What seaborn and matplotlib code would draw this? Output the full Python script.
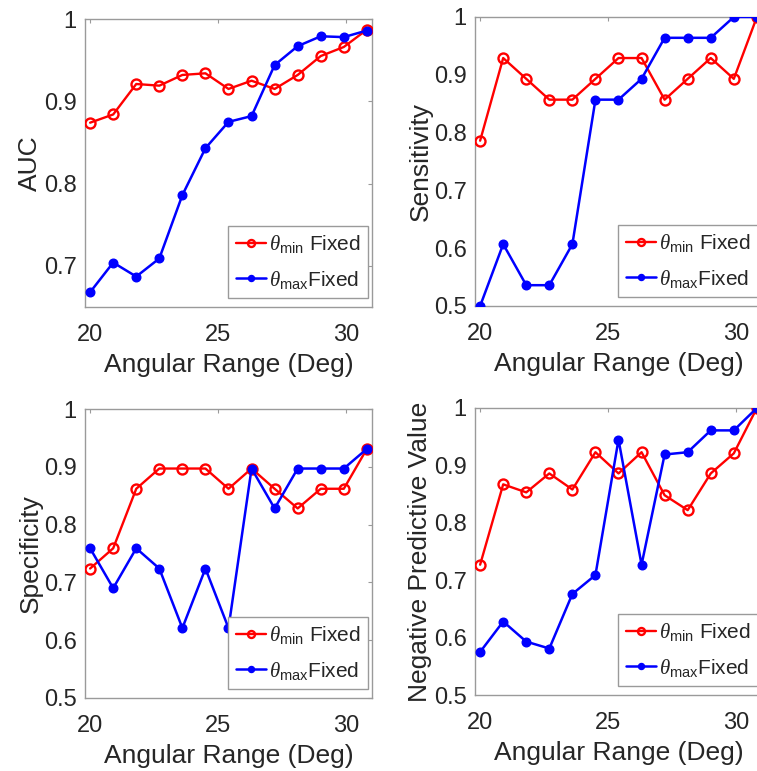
import numpy as np
import matplotlib
matplotlib.use("Agg")
import matplotlib.pyplot as plt
import seaborn as sns

# ---- data ----
angular_range = [20.0, 20.9, 21.8, 22.7, 23.6, 24.5, 25.4, 26.3, 27.2, 28.1, 29.0, 29.9, 30.8]

auc_min = [0.874, 0.884, 0.921, 0.919, 0.932, 0.934, 0.915, 0.925, 0.915, 0.932, 0.955, 0.966, 0.987]
auc_max = [0.668, 0.704, 0.687, 0.709, 0.786, 0.843, 0.875, 0.882, 0.944, 0.967, 0.979, 0.978, 0.986]

sens_min = [0.786, 0.929, 0.893, 0.857, 0.857, 0.893, 0.929, 0.929, 0.857, 0.893, 0.929, 0.893, 1.000]
sens_max = [0.500, 0.607, 0.536, 0.536, 0.607, 0.857, 0.857, 0.893, 0.964, 0.964, 0.964, 1.000, 1.000]

spec_min = [0.724, 0.759, 0.862, 0.897, 0.897, 0.897, 0.862, 0.897, 0.862, 0.828, 0.862, 0.862, 0.931]
spec_max = [0.759, 0.690, 0.759, 0.724, 0.621, 0.724, 0.621, 0.897, 0.828, 0.897, 0.897, 0.897, 0.931]

npv_min = [0.727, 0.867, 0.853, 0.886, 0.858, 0.923, 0.886, 0.923, 0.848, 0.822, 0.886, 0.921, 1.000]
npv_max = [0.575, 0.628, 0.593, 0.581, 0.676, 0.709, 0.945, 0.727, 0.919, 0.923, 0.961, 0.961, 1.000]

y_labels = ["AUC", "Sensitivity", "Specificity", "Negative Predictive Value"]
x_label = "Angular Range (Deg)"
x_ticks = [20, 25, 30]
legend_labels = [r"$\theta_{\mathregular{min}}$ Fixed", r"$\theta_{\mathregular{max}}$Fixed"]

# ---- style ----
sns.set_theme(style="white")
plt.rcParams["font.family"] = ["Liberation Sans", "DejaVu Sans"]
plt.rcParams["mathtext.fontset"] = "custom"
plt.rcParams["mathtext.rm"] = "Liberation Sans"
plt.rcParams["mathtext.it"] = "Liberation Serif:italic"
plt.rcParams["mathtext.bf"] = "Liberation Sans:bold"

text_color = "#262626"
edge_color = "#9a9a9a"

fig = plt.figure(figsize=(7.57, 7.71), dpi=100)

W = 287 / 757
positions = [
    (85 / 757, 1 - 307 / 771, W, 288 / 771),
    (475 / 757, 1 - 306 / 771, W, 289 / 771),
    (85 / 757, 1 - 698 / 771, W, 289 / 771),
    (475 / 757, 1 - 695 / 771, W, 287 / 771),
]

panels = [
    (auc_min, auc_max, (0.65, 1.0), [0.7, 0.8, 0.9, 1.0], ["0.7", "0.8", "0.9", "1"]),
    (sens_min, sens_max, (0.5, 1.0), [0.5, 0.6, 0.7, 0.8, 0.9, 1.0], ["0.5", "0.6", "0.7", "0.8", "0.9", "1"]),
    (spec_min, spec_max, (0.5, 1.0), [0.5, 0.6, 0.7, 0.8, 0.9, 1.0], ["0.5", "0.6", "0.7", "0.8", "0.9", "1"]),
    (npv_min, npv_max, (0.5, 1.0), [0.5, 0.6, 0.7, 0.8, 0.9, 1.0], ["0.5", "0.6", "0.7", "0.8", "0.9", "1"]),
]

for pos, (ymin_s, ymax_s, ylim, yticks, yticklabels), ylab in zip(positions, panels, y_labels):
    ax = fig.add_axes(pos)
    sns.lineplot(x=angular_range, y=ymin_s, ax=ax, color="#ff0000", linewidth=1.7,
                 marker="o", markersize=7.2, markerfacecolor="none",
                 markeredgecolor="#ff0000", markeredgewidth=1.7, zorder=3)
    sns.lineplot(x=angular_range, y=ymax_s, ax=ax, color="#0000ff", linewidth=1.8,
                 marker="o", markersize=6.2, markerfacecolor="#0000ff",
                 markeredgecolor="#0000ff", markeredgewidth=1.0, zorder=3)
    ax.set_xlim(19.8, 31.0)
    ax.set_ylim(*ylim)
    ax.set_xticks(x_ticks)
    ax.set_xticklabels([str(t) for t in x_ticks])
    ax.set_yticks(yticks)
    ax.set_yticklabels(yticklabels)
    ax.tick_params(direction="in", length=3, width=0.8, color=edge_color,
                   top=True, right=True, labelsize=17, labelcolor=text_color)
    ax.tick_params(axis="x", pad=12.5)
    ax.tick_params(axis="y", pad=6)
    for sp in ax.spines.values():
        sp.set_color(edge_color)
        sp.set_linewidth(1.0)
    ax.set_xlabel(x_label, fontsize=19, color=text_color, labelpad=5)
    ax.set_ylabel(ylab, fontsize=19, color=text_color, labelpad=1)
    ax.grid(False)
    lines = ax.get_lines()[:2]
    leg = ax.legend(lines, legend_labels, loc="lower right",
                    bbox_to_anchor=(1 - 4 / 287, 9 / 288), borderaxespad=0,
                    fontsize=15,
                    frameon=True, fancybox=False, framealpha=1, edgecolor=edge_color,
                    handlelength=1.45, handletextpad=0.15, borderpad=0.35,
                    labelspacing=0.65, markerscale=0.7)
    leg.get_frame().set_linewidth(1.0)
    for t in leg.get_texts():
        t.set_color(text_color)

fig.savefig("out.png", dpi=100)
